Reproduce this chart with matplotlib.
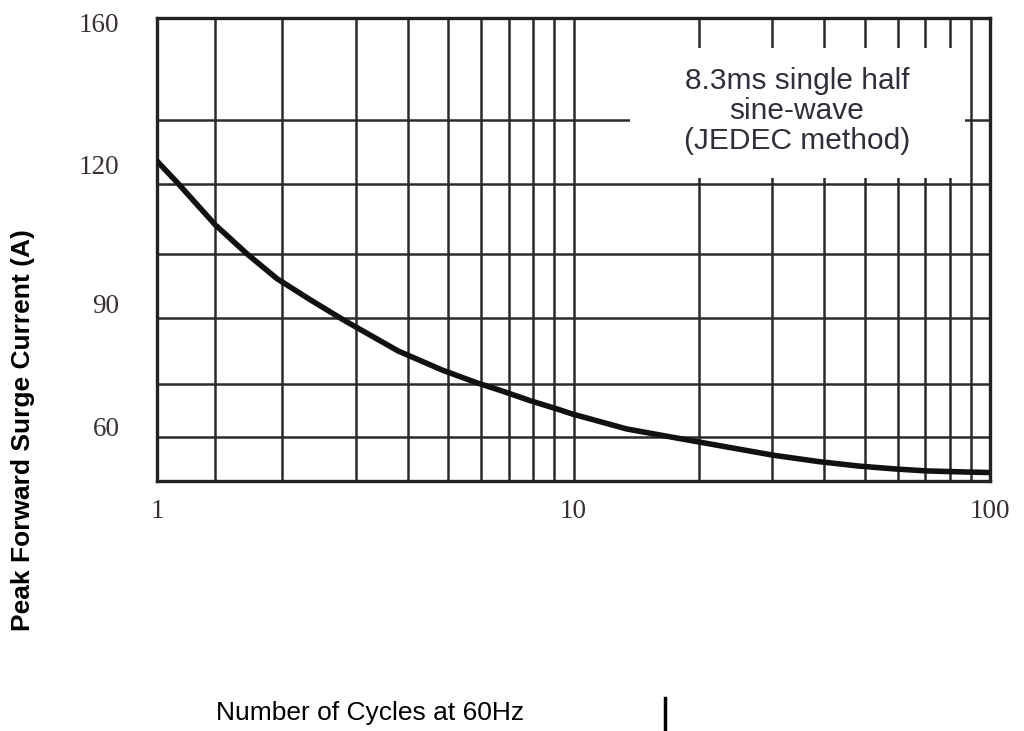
import matplotlib.pyplot as plt
from matplotlib.patches import Rectangle
from matplotlib.lines import Line2D
import numpy as np

# curve (cycles, amps)
cycles = [1.0, 1.12, 1.38, 1.65, 1.94, 2.33, 2.8, 3.79, 4.83, 5.86, 6.73, 7.86, 9.28,
          9.92, 13.4, 16.1, 19.4, 30.1, 38.8, 48.4, 58.8, 70.2, 89.5, 100.0]
current = [125.8, 120.4, 110.0, 102.7, 96.7, 91.5, 86.5, 78.8, 74.1, 70.9, 68.9, 66.5, 64.2,
           63.2, 59.5, 58.0, 56.5, 53.0, 51.4, 50.3, 49.6, 49.1, 48.8, 48.7]

# grid of the original sheet
x_grid = [1.38, 2, 3, 4, 5, 6, 7, 8, 9, 10, 20, 30, 40, 50, 60, 70, 80, 90]
y_grid = [135.9, 120, 102.8, 86.9, 70.5, 57.4]

xtick_pos = [1, 10, 100]
xtick_labels = ['1', '10', '100']
ytick_pos = [160, 125, 90.5, 60]
ytick_labels = ['160', '120', '90', '60']

note_lines = ["8.3ms single half", "sine-wave", "(JEDEC method)"]
note_y = [145.6, 138.1, 130.7]

fig = plt.figure(figsize=(10.24, 7.31), dpi=100)
ax = fig.add_axes([157/1024, 250/731, 833/1024, 463/731])

ax.set_xscale('log')
ax.set_xlim(1, 100)
ax.set_ylim(46.6, 161.2)

gridcol = '#2a2a2a'
for xv in x_grid:
    ax.axvline(xv, color=gridcol, lw=1.8, zorder=1)
for yv in y_grid:
    ax.axhline(yv, color=gridcol, lw=1.8, zorder=1)

# white box behind the note, the grid is broken there
ax.add_patch(Rectangle((13.7, 121.5), 87.1 - 13.7, 153.8 - 121.5,
                       facecolor='white', edgecolor='none', zorder=2))
for txt, yv in zip(note_lines, note_y):
    ax.text(34.4, yv, txt, ha='center', va='center', fontsize=21.5,
            family='Liberation Sans', color='#2f2f3a', zorder=3)

ax.plot(cycles, current, color='#111111', lw=4, solid_capstyle='round',
        solid_joinstyle='round', zorder=4)

for s in ax.spines.values():
    s.set_linewidth(2.4)
    s.set_color('#222222')

ax.minorticks_off()
ax.set_xticks(xtick_pos)
ax.set_xticklabels(xtick_labels, family='Liberation Serif', fontsize=19.5, color='#3a3030')
ax.set_yticks(ytick_pos)
ax.set_yticklabels(ytick_labels, family='Liberation Serif', fontsize=19.5, color='#3a3030')
ax.tick_params(axis='x', length=0, pad=13)
ax.tick_params(axis='y', length=0, pad=27)

fig.text(370/1024, 1 - 713/731, 'Number of Cycles at 60Hz', ha='center', va='center',
         fontsize=19, family='Liberation Sans')
fig.text(23/1024, 1 - 430/731, 'Peak Forward Surge Current (A)', ha='center', va='center',
         rotation=90, fontsize=19, fontweight='bold', family='Liberation Sans')

# stray bar next to the x label
fig.add_artist(Line2D([665/1024, 665/1024], [1 - 698/731, 1 - 730/731],
                      transform=fig.transFigure, color='black', lw=2.5))

plt.savefig('out.png', dpi=100)
